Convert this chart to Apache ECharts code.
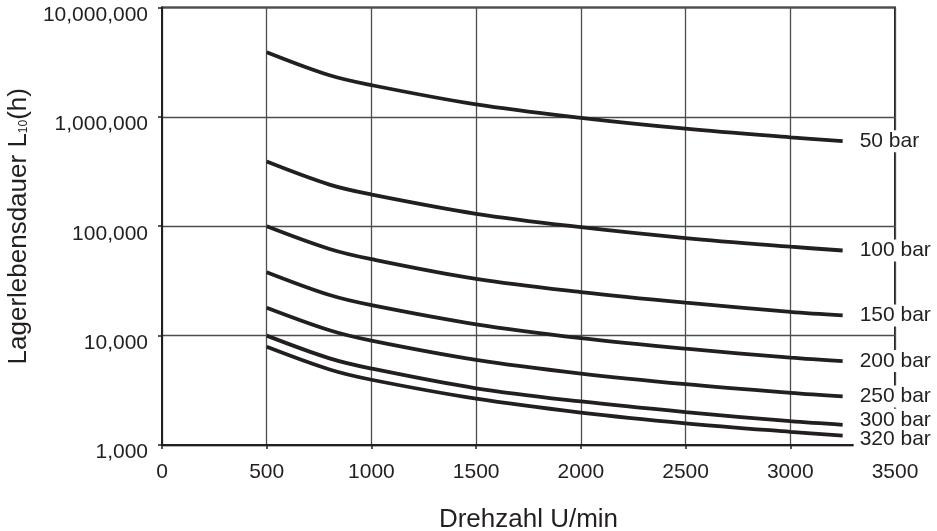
<!DOCTYPE html>
<html>
<head>
<meta charset="utf-8">
<script src="https://cdn.jsdelivr.net/npm/echarts@6/dist/echarts.min.js"></script>
<style>
  html, body { margin: 0; padding: 0; background: #fff; }
  #main { width: 937px; height: 531px; }
</style>
</head>
<body>
<div id="main"></div>
<script>
var rpm = [500, 800, 1000, 1500, 2000, 2500, 3000, 3250];

// Lagerlebensdauer L10 (h) je Druckstufe
var bar50 = [3900000, 2400000, 1950000, 1300000, 980000, 780000, 650000, 600000];
var bar100 = [390000, 240000, 195000, 130000, 98000, 78000, 65000, 60000];
var bar150 = [100000, 62000, 50000, 33000, 25000, 20000, 16500, 15300];
var bar200 = [38000, 23500, 19000, 12700, 9500, 7600, 6300, 5850];
var bar250 = [18000, 11200, 9000, 6000, 4500, 3600, 3000, 2780];
var bar300 = [10000, 6200, 5000, 3300, 2500, 2000, 1650, 1530];
var bar320 = [7900, 4900, 3950, 2650, 1980, 1580, 1320, 1220];

var seriesNames = ['50 bar', '100 bar', '150 bar', '200 bar', '250 bar', '300 bar', '320 bar'];
var seriesValues = [bar50, bar100, bar150, bar200, bar250, bar300, bar320];

var INK = '#231f20';
var FONT = 'Liberation Sans, Arial, sans-serif';
var chart = echarts.init(document.getElementById('main'));

// kleine Verschiebung der Beschriftung, damit 300/320 bar nicht kollidieren
var labelShift = {'300 bar': [0, -5], '320 bar': [0, 4]};

var seriesList = seriesValues.map(function (vals, i) {
  var name = seriesNames[i];
  return {
    name: name,
    type: 'line',
    data: rpm.map(function (x, j) { return [x, vals[j]]; }),
    smooth: 0.35,
    showSymbol: false,
    lineStyle: {color: INK, width: 3.8},
    endLabel: {
      show: true,
      formatter: name,
      distance: 11,
      offset: labelShift[name] || [0, 0],
      color: INK,
      fontSize: 21,
      fontFamily: FONT,
      backgroundColor: '#fff',
      padding: [1, 4, 0, 6]
    }
  };
});

chart.setOption({
  animation: false,
  backgroundColor: '#fff',
  grid: {
    left: 162,
    right: 42,
    top: 7.5,
    bottom: 86,
    outerBoundsMode: 'none',
    containLabel: false,
    show: true,
    borderColor: INK,
    borderWidth: 2
  },
  xAxis: {
    type: 'value',
    min: 0,
    max: 3500,
    interval: 500,
    name: 'Drehzahl U/min',
    nameLocation: 'middle',
    nameGap: 62,
    nameTextStyle: {color: INK, fontSize: 26, fontFamily: FONT},
    axisLine: {show: true, lineStyle: {color: INK, width: 2}},
    axisTick: {show: true, length: 4, lineStyle: {color: INK, width: 1.5}},
    axisLabel: {
      margin: 17,
      color: INK,
      fontSize: 21,
      fontFamily: FONT,
      formatter: function (v) { return String(v); }
    },
    splitLine: {show: true, lineStyle: {color: '#4d4d4d', width: 1.3}}
  },
  yAxis: {
    type: 'log',
    logBase: 10,
    min: 1000,
    max: 10000000,
    name: 'Lagerlebensdauer L{sub|10}(h)',
    nameLocation: 'middle',
    nameGap: 111,
    nameTextStyle: {
      color: INK,
      fontSize: 26,
      fontFamily: FONT,
      rich: {
        sub: {fontSize: 12, color: INK, fontFamily: FONT, padding: [10, 0, 0, 0]}
      }
    },
    axisLine: {show: true, lineStyle: {color: INK, width: 2}},
    axisTick: {show: true, length: 4, lineStyle: {color: INK, width: 1.5}},
    axisLabel: {
      margin: 14,
      color: INK,
      showMaxLabel: true,
      formatter: function (v) {
        return '{t|' + Math.round(v).toLocaleString('en-US') + '}';
      },
      rich: {
        t: {fontSize: 21, color: INK, fontFamily: FONT, padding: [15, 0, 0, 0]}
      }
    },
    splitLine: {show: true, lineStyle: {color: '#4d4d4d', width: 1.3}},
    minorTick: {show: false},
    minorSplitLine: {show: false}
  },
  series: seriesList
});
</script>
</body>
</html>
